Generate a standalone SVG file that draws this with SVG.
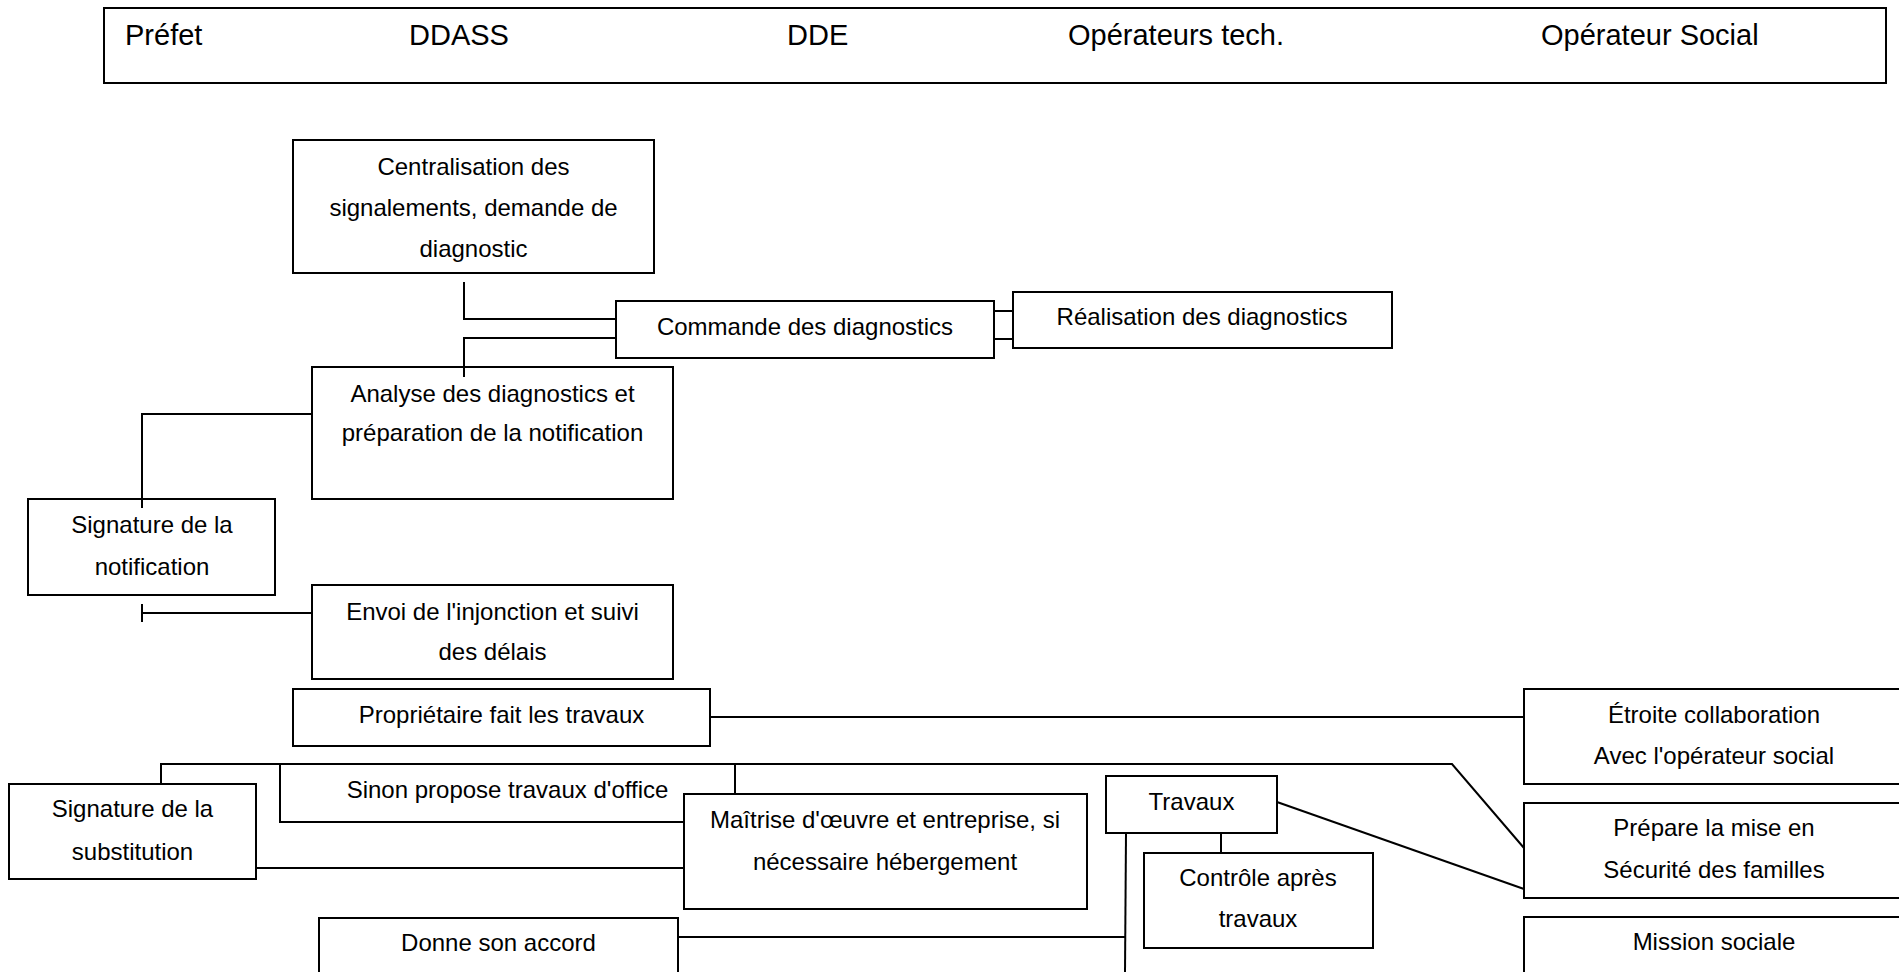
<svg xmlns="http://www.w3.org/2000/svg" width="1899" height="972" viewBox="0 0 1899 972">
<style>
.box{fill:#fff;stroke:#000;stroke-width:2}
.t{font-family:"Liberation Sans",Arial,sans-serif;font-size:24px;fill:#000;text-anchor:middle}
.h{font-family:"Liberation Sans",Arial,sans-serif;font-size:29px;fill:#000}
.c{fill:none;stroke:#000;stroke-width:2}
</style>
<rect width="1899" height="972" fill="#fff"/>
<g id="header">
<rect class="box" x="104" y="8" width="1782" height="75"/>
<text class="h" x="125" y="45">Préfet</text>
<text class="h" x="409" y="45">DDASS</text>
<text class="h" x="787" y="45">DDE</text>
<text class="h" x="1068" y="45">Opérateurs tech.</text>
<text class="h" x="1541" y="45">Opérateur Social</text>
</g>
<g id="n-centralisation">
<rect class="box" x="293" y="140" width="361" height="133"/>
<text class="t" x="473.5" y="175">Centralisation des</text>
<text class="t" x="473.5" y="216">signalements, demande de</text>
<text class="t" x="473.5" y="257">diagnostic</text>
</g>
<g id="n-commande">
<rect class="box" x="616" y="301" width="378" height="57"/>
<text class="t" x="805" y="335">Commande des diagnostics</text>
</g>
<g id="n-realisation">
<rect class="box" x="1013" y="292" width="379" height="56"/>
<text class="t" x="1202" y="325">Réalisation des diagnostics</text>
</g>
<g id="n-analyse">
<rect class="box" x="312" y="367" width="361" height="132"/>
<text class="t" x="492.5" y="402">Analyse des diagnostics et</text>
<text class="t" x="492.5" y="441">préparation de la notification</text>
</g>
<g id="n-signature-notif">
<rect class="box" x="28" y="499" width="247" height="96"/>
<text class="t" x="152" y="533">Signature de la</text>
<text class="t" x="152" y="575">notification</text>
</g>
<g id="n-envoi">
<rect class="box" x="312" y="585" width="361" height="94"/>
<text class="t" x="492.5" y="620">Envoi de l'injonction et suivi</text>
<text class="t" x="492.5" y="660">des délais</text>
</g>
<g id="n-proprietaire">
<rect class="box" x="293" y="689" width="417" height="57"/>
<text class="t" x="501.5" y="723">Propriétaire fait les travaux</text>
</g>
<g id="n-etroite">
<rect class="box" x="1524" y="689" width="380" height="95"/>
<text class="t" x="1714" y="723">Étroite collaboration</text>
<text class="t" x="1714" y="764">Avec l'opérateur social</text>
</g>
<g id="n-sinon">
<rect class="box" x="280" y="764" width="455" height="58"/>
<text class="t" x="507.5" y="798">Sinon propose travaux d'office</text>
</g>
<g id="n-signature-subst">
<rect class="box" x="9" y="784" width="247" height="95"/>
<text class="t" x="132.5" y="817">Signature de la</text>
<text class="t" x="132.5" y="860">substitution</text>
</g>
<g id="n-maitrise">
<rect class="box" x="684" y="794" width="403" height="115"/>
<text class="t" x="885" y="828">Maîtrise d'œuvre et entreprise, si</text>
<text class="t" x="885" y="870">nécessaire hébergement</text>
</g>
<g id="n-travaux">
<rect class="box" x="1106" y="776" width="171" height="57"/>
<text class="t" x="1191.5" y="810">Travaux</text>
</g>
<g id="n-controle">
<rect class="box" x="1144" y="853" width="229" height="95"/>
<text class="t" x="1258" y="886">Contrôle après</text>
<text class="t" x="1258" y="927">travaux</text>
</g>
<g id="n-prepare">
<rect class="box" x="1524" y="803" width="380" height="95"/>
<text class="t" x="1714" y="836">Prépare la mise en</text>
<text class="t" x="1714" y="878">Sécurité des familles</text>
</g>
<g id="n-donne">
<rect class="box" x="319" y="918" width="359" height="70"/>
<text class="t" x="498.5" y="951">Donne son accord</text>
</g>
<g id="n-mission">
<rect class="box" x="1524" y="917" width="380" height="70"/>
<text class="t" x="1714" y="950">Mission sociale</text>
</g>
<g id="connectors">
<polyline class="c" points="464,282 464,319 616,319"/>
<polyline class="c" points="616,338 464,338 464,377"/>
<line class="c" x1="994" y1="311" x2="1013" y2="311"/>
<line class="c" x1="994" y1="339" x2="1013" y2="339"/>
<polyline class="c" points="312,414 142,414 142,508"/>
<line class="c" x1="142" y1="613" x2="312" y2="613"/>
<line class="c" x1="142" y1="604" x2="142" y2="622"/>
<line class="c" x1="710" y1="717" x2="1524" y2="717"/>
<polyline class="c" points="161,783 161,764 1452,764 1524,848"/>
<line class="c" x1="256" y1="868" x2="684" y2="868"/>
<line class="c" x1="1277" y1="802" x2="1524" y2="889"/>
<line class="c" x1="1221" y1="833" x2="1221" y2="853"/>
<line class="c" x1="1126" y1="833" x2="1125" y2="972"/>
<line class="c" x1="678" y1="937" x2="1126" y2="937"/>
</g>
</svg>
